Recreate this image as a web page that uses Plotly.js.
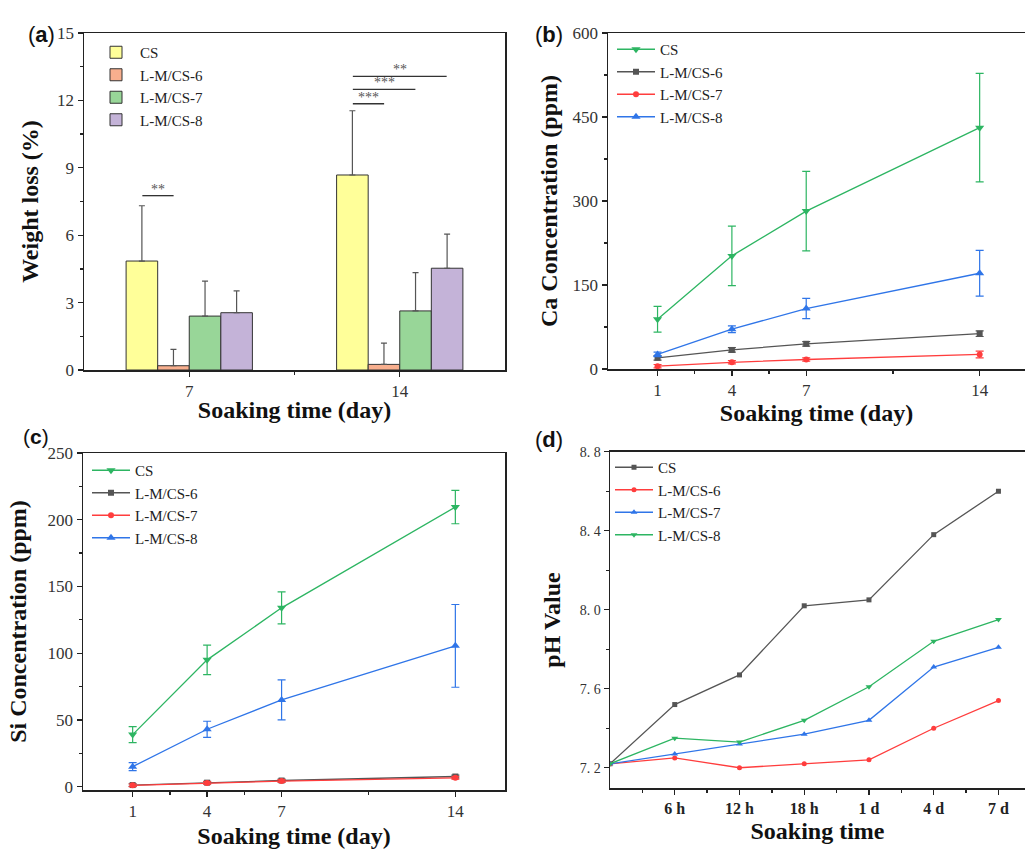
<!DOCTYPE html>
<html><head><meta charset="utf-8">
<script src="https://cdn.plot.ly/plotly-3.0.1.min.js"></script>
<style>html,body{margin:0;padding:0;background:#fff}#chart{width:1025px;height:853px}</style>
</head><body><div id="chart"></div>
<script>
// ---------- Data ----------
const seriesNames = ['CS', 'L-M/CS-6', 'L-M/CS-7', 'L-M/CS-8'];

// (a) Weight loss (%)
const daysA = [7, 14];
const weightLossCS = [4.85, 8.68];
const weightLossCSErr = [2.46, 2.86];
const weightLoss6 = [0.19, 0.25];
const weightLoss6Err = [0.73, 0.95];
const weightLoss7 = [2.40, 2.63];
const weightLoss7Err = [1.56, 1.70];
const weightLoss8 = [2.55, 4.53];
const weightLoss8Err = [0.97, 1.52];
// significance brackets (a)
const sigX0 = [5.44, 12.44, 12.44, 12.44];
const sigX1 = [6.48, 15.56, 14.52, 13.48];
const sigY = [7.76, 13.07, 12.49, 11.85];
const sigLabels = ['**', '**', '***', '***'];

// (b) Ca concentration (ppm)
const daysB = [1, 4, 7, 14];
const caCS = [89, 202, 282, 431];
const caCSErr = [23, 53, 71, 97];
const ca6 = [20, 34, 45, 63];
const ca6Err = [4, 4, 4, 5];
const ca7 = [5, 12, 17, 26];
const ca7Err = [3, 3, 3, 6];
const ca8 = [26, 71, 108, 171];
const ca8Err = [4, 6, 18, 41];

// (c) Si concentration (ppm)
const daysC = [1, 4, 7, 14];
const siCS = [39, 95, 134, 209.5];
const siCSErr = [6, 11, 12, 12.5];
const si6 = [1.2, 3.0, 4.6, 7.6];
const si6Err = [1, 1, 1, 1];
const si7 = [1.0, 2.8, 4.2, 6.6];
const si7Err = [1, 1, 1, 1];
const si8 = [15, 43, 65, 105.5];
const si8Err = [3, 6, 15, 31];

// (d) pH value
const phTimeLabels = ['0', '6 h', '12 h', '18 h', '1 d', '4 d', '7 d'];
const phCS = [7.22, 7.52, 7.67, 8.02, 8.05, 8.38, 8.60];
const ph6 = [7.22, 7.25, 7.20, 7.22, 7.24, 7.40, 7.54];
const ph7 = [7.22, 7.27, 7.32, 7.37, 7.44, 7.71, 7.81];
const ph8 = [7.22, 7.35, 7.33, 7.44, 7.61, 7.84, 7.95];
const phTickVals = [7.2, 7.6, 8.0, 8.4, 8.8];
const phTickText = ['7.\u00a02', '7.\u00a06', '8.\u00a00', '8.\u00a04', '8.\u00a08'];

// ---------- Styles ----------
const barColors = ['#FFFF99', '#F8AF8E', '#98D698', '#C4B3D8'];
const cGreen = '#2DB562', cGray = '#555555', cRed = '#FF3D3D', cBlue = '#2F75E8';
const serif = 'Liberation Serif';
const axisCol = '#222';

const traces = [];
// (a) bars
const aVals = [weightLossCS, weightLoss6, weightLoss7, weightLoss8];
const aErrs = [weightLossCSErr, weightLoss6Err, weightLoss7Err, weightLoss8Err];
aVals.forEach((v, i) => {
  traces.push({
    type: 'bar', x: daysA, y: v, name: seriesNames[i], xaxis: 'x', yaxis: 'y', legend: 'legend',
    marker: {color: barColors[i], line: {color: '#333', width: 1}},
    error_y: {type: 'data', symmetric: false, array: aErrs[i], arrayminus: v.map(() => 0),
              color: '#555', thickness: 1.2, width: 3}
  });
});

function lineTrace(x, y, err, name, color, symbol, size, xa, ya, lg) {
  const t = {
    type: 'scatter', mode: 'lines+markers', x: x, y: y, name: name,
    xaxis: xa, yaxis: ya, legend: lg,
    line: {color: color, width: 1.3},
    marker: {color: color, symbol: symbol, size: size}
  };
  if (err) t.error_y = {type: 'data', array: err, color: color, thickness: 1.2, width: 4};
  return t;
}
// (b)
traces.push(lineTrace(daysB, caCS, caCSErr, seriesNames[0], cGreen, 'triangle-down', 8, 'x2', 'y2', 'legend2'));
traces.push(lineTrace(daysB, ca6, ca6Err, seriesNames[1], cGray, 'square', 6, 'x2', 'y2', 'legend2'));
traces.push(lineTrace(daysB, ca7, ca7Err, seriesNames[2], cRed, 'circle', 6, 'x2', 'y2', 'legend2'));
traces.push(lineTrace(daysB, ca8, ca8Err, seriesNames[3], cBlue, 'triangle-up', 8, 'x2', 'y2', 'legend2'));
// (c)
traces.push(lineTrace(daysC, siCS, siCSErr, seriesNames[0], cGreen, 'triangle-down', 8, 'x3', 'y3', 'legend3'));
traces.push(lineTrace(daysC, si6, si6Err, seriesNames[1], cGray, 'square', 6, 'x3', 'y3', 'legend3'));
traces.push(lineTrace(daysC, si7, si7Err, seriesNames[2], cRed, 'circle', 6, 'x3', 'y3', 'legend3'));
traces.push(lineTrace(daysC, si8, si8Err, seriesNames[3], cBlue, 'triangle-up', 8, 'x3', 'y3', 'legend3'));
// (d)
const phX = phTimeLabels.map((_, i) => i);
traces.push(lineTrace(phX, phCS, null, seriesNames[0], cGray, 'square', 5, 'x4', 'y4', 'legend4'));
traces.push(lineTrace(phX, ph6, null, seriesNames[1], cRed, 'circle', 5, 'x4', 'y4', 'legend4'));
traces.push(lineTrace(phX, ph7, null, seriesNames[2], cBlue, 'triangle-up', 6, 'x4', 'y4', 'legend4'));
traces.push(lineTrace(phX, ph8, null, seriesNames[3], cGreen, 'triangle-down', 6, 'x4', 'y4', 'legend4'));

const W = 1025, H = 853;
const fx = p => p / W;
const fy = p => 1 - p / H;

function baseAxis(extra) {
  return Object.assign({
    showline: true, linecolor: axisCol, linewidth: 1.5, ticks: 'outside', ticklen: 5,
    tickwidth: 1.3, tickcolor: axisCol, showgrid: false, zeroline: false,
    tickfont: {family: serif, size: 17, color: '#333'}
  }, extra);
}
const titleFont = {family: serif, size: 24, color: '#111', weight: 'bold'};
const legendBase = {bgcolor: 'rgba(0,0,0,0)', borderwidth: 0, font: {family: serif, size: 15, color: '#222'},
  xanchor: 'left', yanchor: 'top', tracegroupgap: 0, itemwidth: 38};

const layout = {
  width: W, height: H, margin: {l: 0, r: 0, t: 0, b: 0},
  paper_bgcolor: '#fff', plot_bgcolor: '#fff',
  barmode: 'group', bargap: 0.4, bargroupgap: 0,
  font: {family: serif},
  // (a)
  xaxis: baseAxis({domain: [fx(84), fx(505)], anchor: 'y', range: [3.5, 17.5], tickmode: 'array', tickvals: daysA,
    mirror: true, minor: {tickmode: 'array', tickvals: [10.5], ticks: 'outside', ticklen: 3, tickcolor: axisCol},
    title: {text: 'Soaking time (day)', font: titleFont, standoff: 1}}),
  yaxis: baseAxis({domain: [fy(370), fy(33)], anchor: 'x', range: [0, 15], dtick: 3, tick0: 0, mirror: true,
    minor: {dtick: 1.5, ticks: 'outside', ticklen: 3, tickcolor: axisCol},
    title: {text: 'Weight loss (%)', font: titleFont, standoff: 11}}),
  // (b)
  xaxis2: baseAxis({domain: [fx(608), 1], anchor: 'y2', range: [-1, 15.83], tickmode: 'array', tickvals: daysB,
    mirror: true, minor: {tickmode: 'array', tickvals: [2.5, 5.5, 10.5], ticks: 'outside', ticklen: 3, tickcolor: axisCol},
    title: {text: 'Soaking time (day)', font: titleFont, standoff: 1}}),
  yaxis2: baseAxis({domain: [fy(369), fy(33)], anchor: 'x2', range: [0, 600], dtick: 150, tick0: 0,
    minor: {dtick: 75, ticks: 'outside', ticklen: 3, tickcolor: axisCol},
    title: {text: 'Ca Concentration (ppm)', font: titleFont, standoff: 8}}),
  // (c)
  xaxis3: baseAxis({domain: [fx(83), fx(505)], anchor: 'y3', range: [-1, 16], tickmode: 'array', tickvals: daysC,
    mirror: true, minor: {tickmode: 'array', tickvals: [2.5, 5.5, 10.5], ticks: 'outside', ticklen: 3, tickcolor: axisCol},
    title: {text: 'Soaking time (day)', font: titleFont, standoff: 7}}),
  yaxis3: baseAxis({domain: [fy(790), fy(453)], anchor: 'x3', range: [-2.5, 250], dtick: 50, tick0: 0, mirror: true,
    minor: {dtick: 25, tick0: 0, ticks: 'outside', ticklen: 3, tickcolor: axisCol},
    title: {text: 'Si Concentration (ppm)', font: titleFont, standoff: 14}}),
  // (d)
  xaxis4: baseAxis({domain: [fx(610), 1], anchor: 'y4', range: [0, 6.41], tickmode: 'array',
    tickvals: phX.slice(1), ticktext: phTimeLabels.slice(1), mirror: true,
    tickfont: {family: serif, size: 16, color: '#222', weight: 'bold'},
    minor: {dtick: 1, tick0: 0.5, ticks: 'outside', ticklen: 3, tickcolor: axisCol},
    title: {text: 'Soaking time', font: titleFont, standoff: 6}}),
  yaxis4: baseAxis({domain: [fy(788.3), fy(451.7)], anchor: 'x4', range: [7.096, 8.8], tickmode: 'array',
    tickvals: phTickVals, ticktext: phTickText,
    tickfont: {family: serif, size: 14, color: '#333'},
    minor: {dtick: 0.2, tick0: 7.2, ticks: 'outside', ticklen: 3, tickcolor: axisCol},
    title: {text: 'pH Value', font: titleFont, standoff: 12}}),
  legend: Object.assign({}, legendBase, {x: fx(92), y: fy(36)}),
  legend2: Object.assign({}, legendBase, {x: fx(612), y: fy(33)}),
  legend3: Object.assign({}, legendBase, {x: fx(87), y: fy(454)}),
  legend4: Object.assign({}, legendBase, {x: fx(610), y: fy(451)}),
  shapes: sigX0.map((x0, i) => ({type: 'line', xref: 'x', yref: 'y', x0: x0, x1: sigX1[i], y0: sigY[i], y1: sigY[i],
    line: {color: '#333', width: 1.3}})),
  annotations: [
    ...sigLabels.map((s, i) => ({xref: 'x', yref: 'y', x: (sigX0[i] + sigX1[i]) / 2, y: sigY[i], text: s,
      showarrow: false, yanchor: 'bottom', yshift: -3, font: {family: serif, size: 14, color: '#555'}})),
    {xref: 'paper', yref: 'paper', x: fx(26), y: fy(20), text: '(<b>a</b>)', showarrow: false,
      font: {family: 'Liberation Sans', size: 22, color: '#111'}},
    {xref: 'paper', yref: 'paper', x: fx(549), y: fy(20), text: '(<b>b</b>)', showarrow: false,
      font: {family: 'Liberation Sans', size: 22, color: '#111'}},
    {xref: 'paper', yref: 'paper', x: fx(21), y: fy(436), text: '(<b>c</b>)', showarrow: false,
      font: {family: 'Liberation Sans', size: 21, color: '#111'}},
    {xref: 'paper', yref: 'paper', x: fx(549), y: fy(439), text: '(<b>d</b>)', showarrow: false,
      font: {family: 'Liberation Sans', size: 22, color: '#111'}}
  ]
};

Plotly.newPlot('chart', traces, layout, {displayModeBar: false, staticPlot: true});
</script>
</body></html>
